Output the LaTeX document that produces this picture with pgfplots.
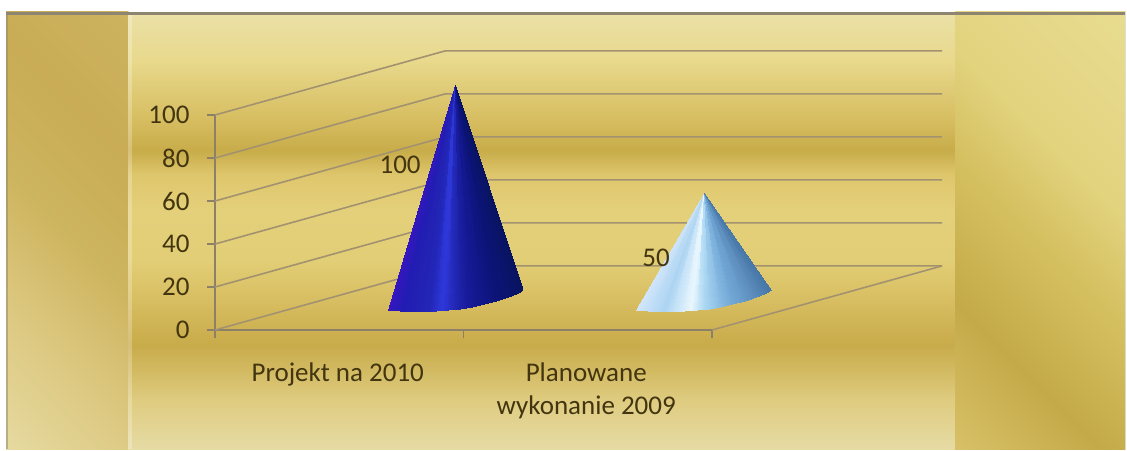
\documentclass[border=0pt]{standalone}
\usepackage{pgfplots}
\usepackage{fontspec}
\setmainfont{Carlito}
\pgfplotsset{compat=1.18}
\definecolor{txt}{HTML}{42350F}
\definecolor{gridc}{HTML}{A39270}
\definecolor{axc}{HTML}{8C8068}
\definecolor{topc}{HTML}{8E8570}
\definecolor{a1}{HTML}{E6DBA4}\definecolor{a2}{HTML}{DFCC80}\definecolor{a3}{HTML}{C8AB4A}
\definecolor{a4}{HTML}{D8BE62}\definecolor{a5}{HTML}{E2CE76}\definecolor{a6}{HTML}{E4D07A}
\definecolor{a7}{HTML}{DEC66C}\definecolor{a8}{HTML}{C8AC4A}\definecolor{a9}{HTML}{D6BD60}
\definecolor{a10}{HTML}{E8D98C}\definecolor{a11}{HTML}{EBE0A6}
\pgfdeclareverticalshading{panelC}{100bp}{
color(0bp)=(a1);color(25bp)=(a1);color(30.6bp)=(a2);color(37bp)=(a3);color(42.2bp)=(a4);
color(46.8bp)=(a5);color(52.5bp)=(a6);color(56.6bp)=(a7);color(59.4bp)=(a8);color(62.9bp)=(a9);
color(69.8bp)=(a10);color(75bp)=(a11);color(100bp)=(a11)}
\definecolor{r1}{HTML}{D8C068}\definecolor{r2}{HTML}{C4AA48}\definecolor{r3}{HTML}{D5C060}
\definecolor{r4}{HTML}{E2D37E}\definecolor{r5}{HTML}{E8DC90}
\pgfdeclarehorizontalshading{panelR}{100bp}{
color(0bp)=(r1);color(28.5bp)=(r1);color(38.7bp)=(r2);color(49.3bp)=(r3);color(57bp)=(r4);
color(71.5bp)=(r5);color(100bp)=(r5)}
\definecolor{l1}{HTML}{E6DAA0}\definecolor{l2}{HTML}{DCC880}\definecolor{l3}{HTML}{CDB45E}
\definecolor{l4}{HTML}{C9AC55}\definecolor{l5}{HTML}{CDB35F}
\pgfdeclarehorizontalshading{panelL}{100bp}{
color(0bp)=(l1);color(30.2bp)=(l1);color(40.4bp)=(l2);color(50bp)=(l3);color(59.6bp)=(l4);
color(69.8bp)=(l5);color(100bp)=(l5)}
\pgfplotsset{
 colormap={blueCone}{rgb255(0pt)=(54,22,192);rgb255(10pt)=(34,28,178);rgb255(30pt)=(34,38,182);
  rgb255(40pt)=(46,56,218);rgb255(50pt)=(32,38,176);rgb255(60pt)=(22,26,152);rgb255(80pt)=(12,20,120);rgb255(100pt)=(8,20,96)},
 colormap={iceCone}{rgb255(0pt)=(210,230,250);rgb255(20pt)=(172,212,242);rgb255(40pt)=(232,246,254);
  rgb255(50pt)=(170,214,242);rgb255(70pt)=(116,170,216);rgb255(90pt)=(88,136,184);rgb255(100pt)=(70,118,165)},
}
\begin{document}
\begin{tikzpicture}[x=1pt,y=1pt]
\fill[white] (0,0) rectangle (1127,450);
\begin{scope}
\clip (6,1) rectangle (128,438);
\fill[shading=panelL,shading angle=45] (-183,-30.5) rectangle (317,469.5);
\end{scope}
\fill[shading=panelC] (128,1) rectangle (955,435);
\begin{scope}
\clip (955,1) rectangle (1125,438);
\fill[shading=panelR,shading angle=45] (790,-30.5) rectangle (1290,469.5);
\end{scope}
\fill[topc] (6,435) rectangle (1125,438);
\fill[topc,opacity=.5] (6,1) rectangle (8,438);
\fill[white,opacity=.25] (128,1) rectangle (132,435);
\begin{axis}[
  at={(215pt,120pt)},anchor=south west,
  scale only axis,width=497pt,height=215pt,
  xmin=0,xmax=2,ymin=0,ymax=100,clip=false,
  axis lines=left,axis line style={-,draw=axc,line width=1.2pt},
  tick align=outside,major tick length=8pt,
  tick style={draw=axc,line width=1.2pt},
  xtick={0,1,2},xticklabels={},
  extra x ticks={0.5,1.5},
  extra x tick labels={Projekt na 2010,{Planowane\\wykonanie 2009}},
  extra x tick style={major tick length=0pt,tick style={draw=none}},
  ytick={0,20,40,60,80,100},
  /pgf/number format/assume math mode=true,
  tick label style={font=\fontsize{27}{33}\selectfont,text=txt},
  x tick label style={align=center,anchor=north,yshift=-29pt,xshift=-1.5pt},
  y tick label style={xshift=-14pt},
  point meta min=0,point meta max=1,
]
% back wall and side wall grid lines
\addplot[gridc,line width=1.6pt] coordinates {(0,0)(0.9256,29.8)(2.9256,29.8)};
\addplot[gridc,line width=1.6pt] coordinates {(0,20)(0.9256,49.8)(2.9256,49.8)};
\addplot[gridc,line width=1.6pt] coordinates {(0,40)(0.9256,69.8)(2.9256,69.8)};
\addplot[gridc,line width=1.6pt] coordinates {(0,60)(0.9256,89.8)(2.9256,89.8)};
\addplot[gridc,line width=1.6pt] coordinates {(0,80)(0.9256,109.8)(2.9256,109.8)};
\addplot[gridc,line width=1.6pt] coordinates {(0,100)(0.9256,129.8)(2.9256,129.8)};
\addplot[gridc,line width=1.6pt] coordinates {(2,0)(2.9256,29.8)};
% cone for value 100
\addplot[patch,patch type=triangle,shader=interp,colormap name=blueCone,point meta=explicit] table[meta=c] {
x y c
0.966 113.95 0.044
0.696 9.30 0
0.744 8.84 0.089
0.966 113.95 0.133
0.744 8.84 0.089
0.793 8.60 0.178
0.966 113.95 0.222
0.793 8.60 0.178
0.841 8.60 0.267
0.966 113.95 0.311
0.841 8.60 0.267
0.889 8.84 0.356
0.966 113.95 0.4
0.889 8.84 0.356
0.938 9.30 0.444
0.966 113.95 0.489
0.938 9.30 0.444
0.986 10.00 0.533
0.966 113.95 0.578
0.986 10.00 0.533
1.034 10.93 0.622
0.966 113.95 0.667
1.034 10.93 0.622
1.082 12.09 0.711
0.966 113.95 0.756
1.082 12.09 0.711
1.131 13.49 0.8
0.966 113.95 0.844
1.131 13.49 0.8
1.179 15.35 0.889
0.966 113.95 0.919
1.179 15.35 0.889
1.211 16.74 0.948
0.966 113.95 0.974
1.211 16.74 0.948
1.239 18.60 1
};
% cone for value 50
\addplot[patch,patch type=triangle,shader=interp,colormap name=iceCone,point meta=explicit] table[meta=c] {
x y c
1.966 63.5 0.044
1.696 9.30 0
1.744 8.84 0.089
1.966 63.5 0.133
1.744 8.84 0.089
1.793 8.60 0.178
1.966 63.5 0.222
1.793 8.60 0.178
1.841 8.60 0.267
1.966 63.5 0.311
1.841 8.60 0.267
1.889 8.84 0.356
1.966 63.5 0.4
1.889 8.84 0.356
1.938 9.30 0.444
1.966 63.5 0.489
1.938 9.30 0.444
1.986 10.00 0.533
1.966 63.5 0.578
1.986 10.00 0.533
2.034 10.93 0.622
1.966 63.5 0.667
2.034 10.93 0.622
2.082 12.09 0.711
1.966 63.5 0.756
2.082 12.09 0.711
2.131 13.49 0.8
1.966 63.5 0.844
2.131 13.49 0.8
2.179 15.35 0.889
1.966 63.5 0.919
2.179 15.35 0.889
2.211 16.74 0.948
1.966 63.5 0.974
2.211 16.74 0.948
2.239 18.60 1
};
\node[font=\fontsize{27}{30}\selectfont,text=txt] at (axis cs:0.745,76.7) {100};
\node[font=\fontsize{27}{30}\selectfont,text=txt] at (axis cs:1.775,33.5) {50};
\end{axis}
\end{tikzpicture}
\end{document}
